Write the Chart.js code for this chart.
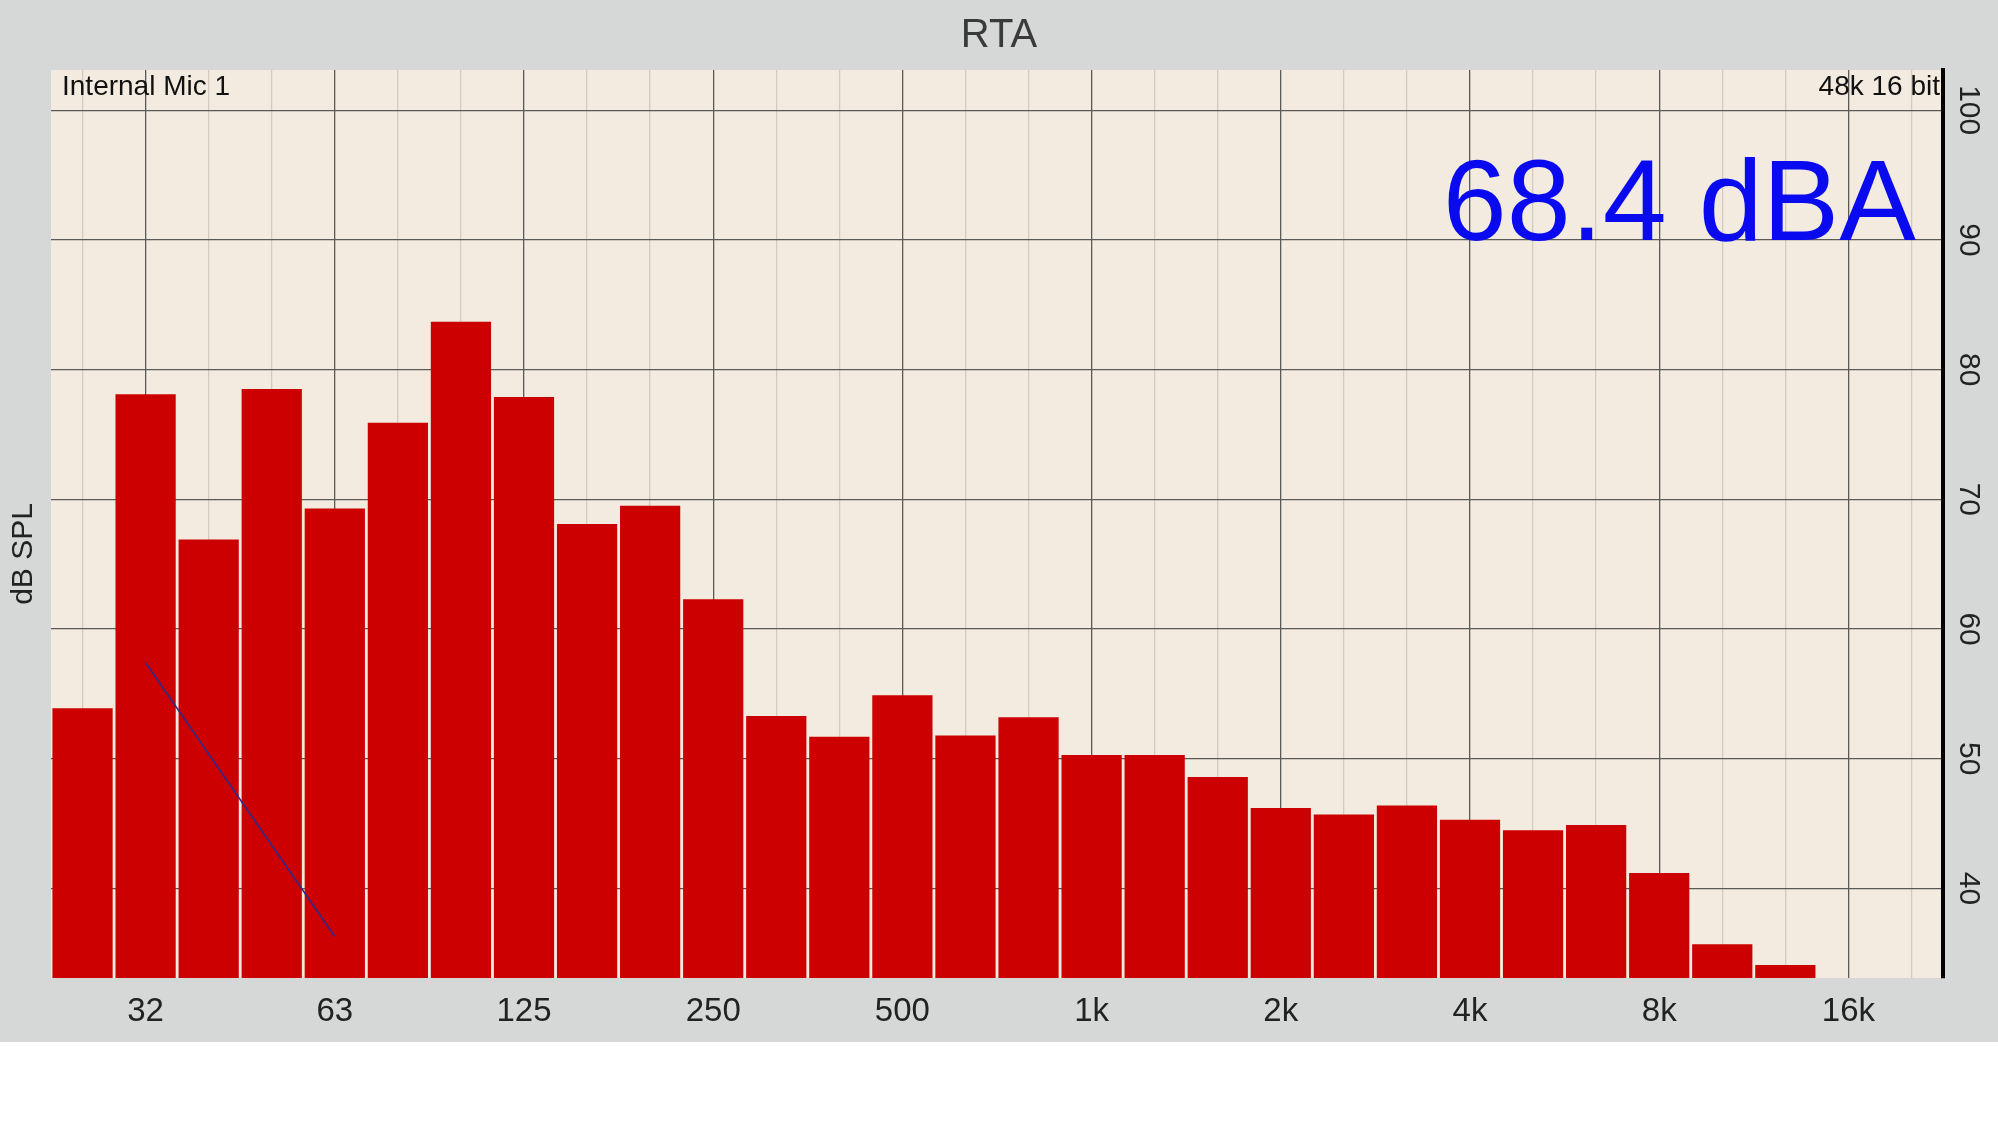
<!DOCTYPE html>
<html><head><meta charset="utf-8">
<script src="https://cdn.jsdelivr.net/npm/chart.js@4"></script>
<style>html,body{margin:0;padding:0;background:#fff;}canvas{display:block;}</style>
</head><body>
<div style="width:1998px;height:1124px;position:relative"><canvas id="c"></canvas></div>
<script>
const bands = ['25','32','40','50','63','80','100','125','160','200','250','315','400','500','630','800','1k','1.25k','1.6k','2k','2.5k','3.15k','4k','5k','6.3k','8k','10k','12.5k','16k','20k'];
const shownLabels = ['32','63','125','250','500','1k','2k','4k','8k','16k'];
const levels = [53.9,78.1,66.9,78.5,69.3,75.9,83.7,77.9,68.1,69.5,62.3,53.3,51.7,54.9,51.8,53.2,50.3,50.3,48.6,46.2,45.7,46.4,45.3,44.5,44.9,41.2,35.7,34.1,null,null];
const stroke = [null,57.4,null,null,36.3,null,null,null,null,null,null,null,null,null,null,null,null,null,null,null,null,null,null,null,null,null,null,null,null,null];
const yTicks = [40,50,60,70,80,90,100];
const FONT = '"Liberation Sans", Arial, sans-serif';

const deco = {
  id:'deco',
  beforeDraw(ch){
    const c=ch.ctx, a=ch.chartArea;
    c.save();
    c.fillStyle='#d6d8d8'; c.fillRect(0,0,1998,1042);
    c.fillStyle='#f3ebdf'; c.fillRect(a.left,a.top,a.right-a.left,a.bottom-a.top);
    c.restore();
  },
  afterDraw(ch){
    const c=ch.ctx, a=ch.chartArea, y=ch.scales.y;
    c.save();
    c.fillStyle='#3a3a3a'; c.font='40px '+FONT; c.textAlign='center'; c.textBaseline='middle';
    c.fillText('RTA',999,36);
    c.fillStyle='#111'; c.font='28px '+FONT; c.textAlign='left'; c.textBaseline='middle';
    c.fillText('Internal Mic 1',62,87);
    c.textAlign='right'; c.fillText('48k 16 bit',1940,87);
    c.fillStyle='#0a0af0'; c.font='115px '+FONT; c.textAlign='right'; c.textBaseline='alphabetic';
    c.fillText('68.4 dBA',1916,240);
    c.fillStyle='#222'; c.font='30px '+FONT; c.textAlign='center'; c.textBaseline='middle';
    for(const v of yTicks){
      c.save(); c.translate(1968,y.getPixelForValue(v)); c.rotate(Math.PI/2); c.fillText(String(v),0,0); c.restore();
    }
    c.save(); c.translate(24,(a.top+a.bottom)/2+30); c.rotate(-Math.PI/2); c.fillText('dB SPL',0,0); c.restore();
    c.restore();
  }
};

new Chart(document.getElementById('c'),{
  data:{labels:bands,datasets:[
    {type:'line',data:stroke,spanGaps:true,borderColor:'#2a2a8a',borderWidth:1.5,pointRadius:0,order:0},
    {type:'bar',data:levels,backgroundColor:'#cc0000',barPercentage:1,categoryPercentage:0.955,order:1}
  ]},
  options:{
    responsive:true,maintainAspectRatio:false,animation:false,
    layout:{padding:{top:70,left:51,right:0,bottom:82}},
    plugins:{legend:{display:false},tooltip:{enabled:false}},
    scales:{
      x:{offset:true,
        grid:{offset:false,color:ctx=>shownLabels.includes(bands[ctx.index])?'#5a5a5a':'#d2cbc0',lineWidth:1.3,drawTicks:false},
        border:{display:false},
        afterFit(s){s.height=64;},
        ticks:{autoSkip:false,maxRotation:0,padding:14,color:'#222',font:{size:33,family:FONT},
          callback:(v,i)=>shownLabels.includes(bands[i])?bands[i]:''}
      },
      y:{position:'right',min:33.1,max:103.1,
        afterBuildTicks(s){s.ticks=yTicks.map(v=>({value:v}));},
        afterFit(s){s.width=55;},
        grid:{color:'#5a5a5a',lineWidth:1.3,drawTicks:false},
        border:{display:true,color:'#000',width:4},
        ticks:{display:true,callback:()=>' ',font:{size:1}}
      }
    }
  },
  plugins:[deco]
});
</script>
</body></html>
